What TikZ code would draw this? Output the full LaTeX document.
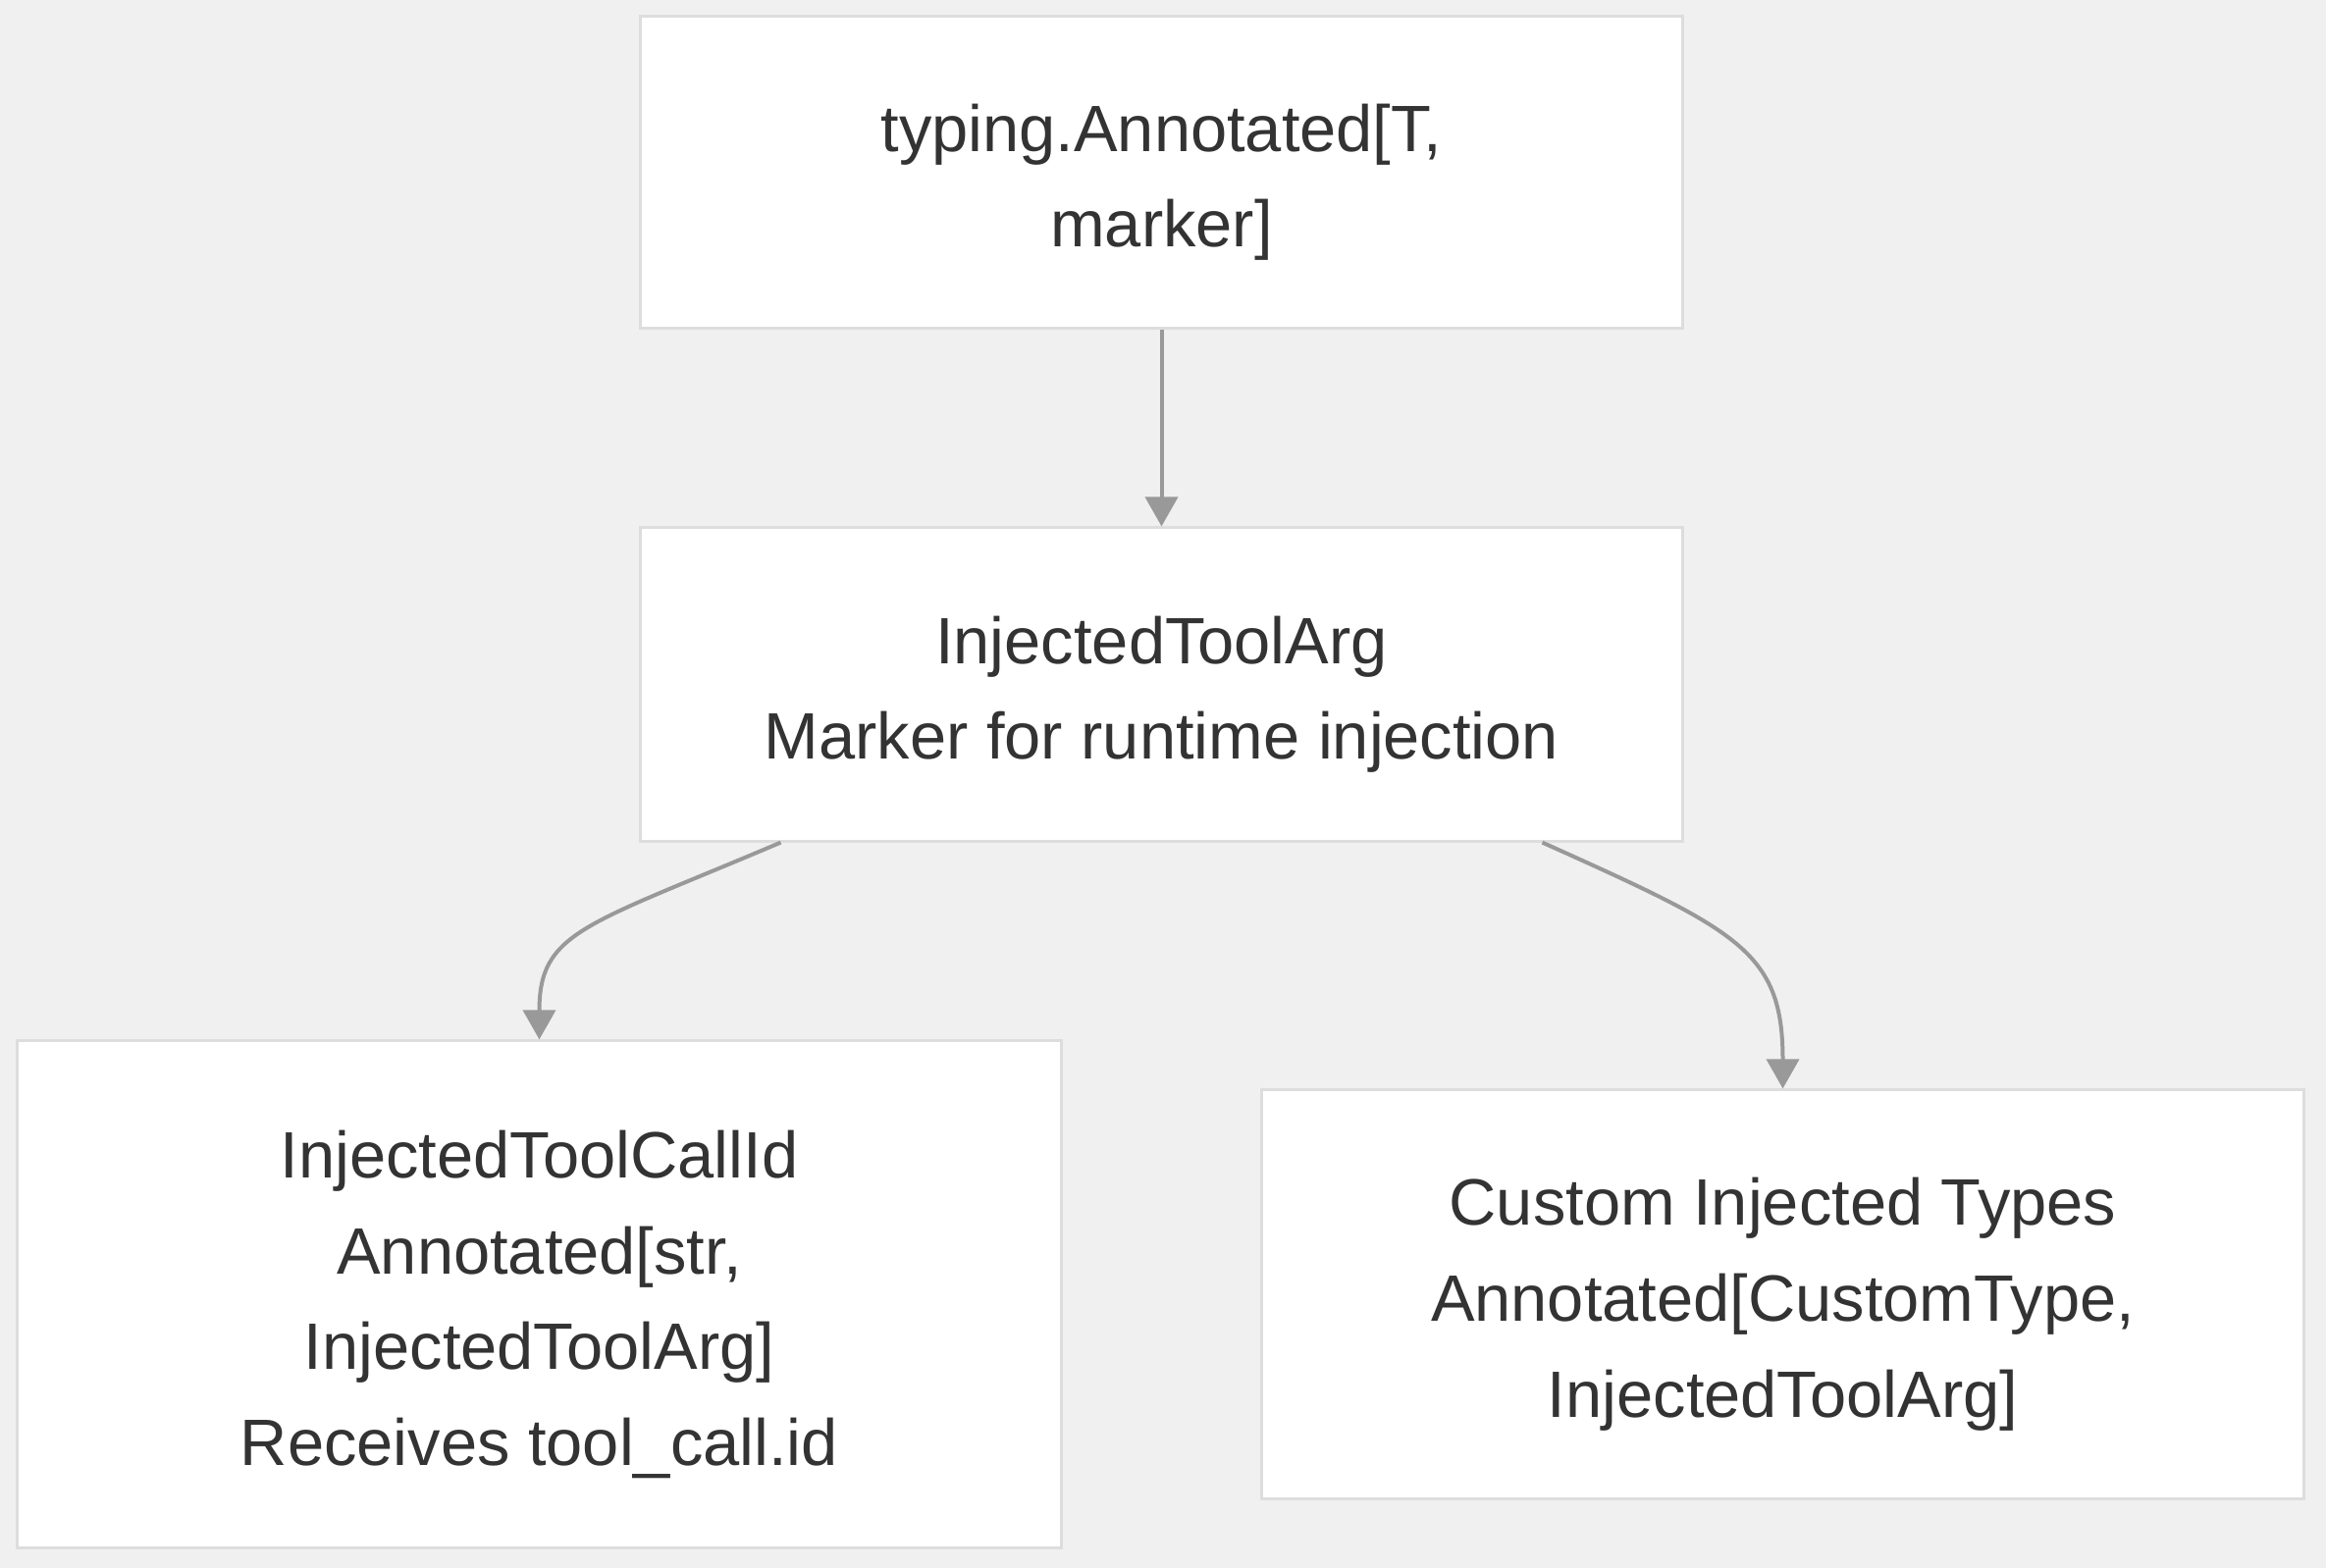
\documentclass[tikz,border=0pt]{standalone}
\usepackage{fontspec}
\setmainfont{Liberation Sans}
\usepackage{tikz}
\usetikzlibrary{calc,arrows.meta}
\definecolor{bgc}{HTML}{F0F0F0}
\definecolor{boxline}{HTML}{DDDDDD}
\definecolor{arr}{HTML}{999999}
\definecolor{txt}{HTML}{333333}
\newcommand\topgap{\rule{0pt}{0.69cm}}
\begin{document}
\begin{tikzpicture}[x=0.01cm,y=-0.01cm,
		box/.style={draw=boxline,fill=white,line width=0.03cm,align=center,text=txt,
			inner sep=0pt,font=\fontsize{19}{27.8}\selectfont},
		edge/.style={draw=arr,line width=0.04cm,-{Triangle[width=0.33cm,length=0.3cm]}}]
		\fill[bgc] (0,0) rectangle (2370,1598);
		% boxes
		\node[box,minimum width=10.61cm,minimum height=3.17cm] (ann) at (1183.5,175.5) {\topgap typing.Annotated[T,\\marker]};
		\node[box,minimum width=10.61cm,minimum height=3.19cm] (mark) at (1183.5,697.5) {\topgap InjectedToolArg\\Marker for runtime injection};
		\node[box,minimum width=10.63cm,minimum height=5.16cm] (callid) at (549.5,1319) {\topgap InjectedToolCallId\\Annotated[str,\\InjectedToolArg]\\Receives tool\_call.id};
		\node[box,minimum width=10.61cm,minimum height=4.16cm] (custom) at (1816.5,1319) {\topgap Custom Injected Types\\Annotated[CustomType,\\InjectedToolArg]};
		% edges
		\draw[edge] (ann) -- (mark);
		\draw[edge] ($(mark.south)+(-388,0)$) .. controls +(-200,85) and +(0,-110) .. (callid.north);
		\draw[edge] ($(mark.south)+(388,0)$) .. controls +(200,90) and +(0,-140) .. (custom.north);
\end{tikzpicture}
\end{document}
